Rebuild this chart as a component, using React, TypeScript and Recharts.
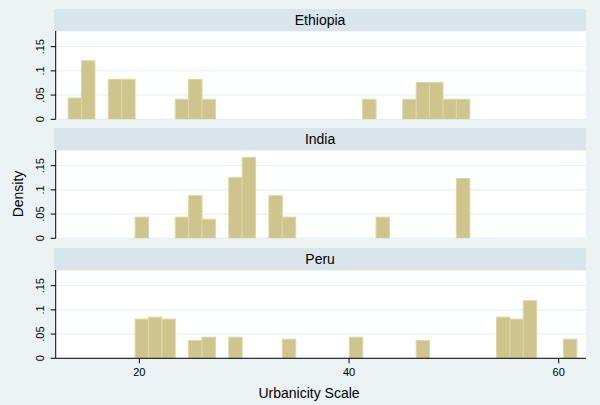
import { BarChart, Bar, XAxis, YAxis, CartesianGrid } from 'recharts'

// histogram bins (bin centres on the urbanicity scale)
const BINS = [
  13.86, 15.14, 16.42, 17.69, 18.97, 20.25, 21.52, 22.8, 24.08, 25.35,
  26.63, 27.91, 29.18, 30.46, 31.74, 33.01, 34.29, 35.57, 36.85, 38.12,
  39.4, 40.68, 41.95, 43.23, 44.5, 45.78, 47.06, 48.34, 49.61, 50.89,
  52.17, 53.44, 54.72, 56.0, 57.27, 58.55, 59.83, 61.1,
]

const ETHIOPIA = [
  0.044, 0.121, 0, 0.0826, 0.0826, 0, 0, 0, 0.0413, 0.0826,
  0.0413, 0, 0, 0, 0, 0, 0, 0, 0, 0,
  0, 0, 0.0413, 0, 0, 0.0413, 0.0764, 0.0764, 0.0413, 0.0413,
  0, 0, 0, 0, 0, 0, 0, 0,
]
const INDIA = [
  0, 0, 0, 0, 0, 0.0437, 0, 0, 0.0437, 0.0881,
  0.0395, 0, 0.126, 0.167, 0, 0.088, 0.0437, 0, 0, 0,
  0, 0, 0, 0.0437, 0, 0, 0, 0, 0, 0.1236,
  0, 0, 0, 0, 0, 0, 0, 0,
]
const PERU = [
  0, 0, 0, 0, 0, 0.081, 0.085, 0.081, 0, 0.0367,
  0.0436, 0, 0.0436, 0, 0, 0, 0.0395, 0, 0, 0,
  0, 0.0436, 0, 0, 0, 0, 0.0367, 0, 0, 0,
  0, 0, 0.085, 0.081, 0.119, 0, 0, 0.0395,
]

const COUNTRIES = ['Ethiopia', 'India', 'Peru']
const Y_TICKS = [0, 0.05, 0.1, 0.15]
const Y_LABELS = ['0', '.05', '.1', '.15']
const X_TICKS = [20, 40, 60]
const X_DOMAIN = [12.02, 62.6]

const C = { bg: '#eaf2f3', strip: '#d9e5eb', grid: '#e4edf0', bar: '#cec58c', barEdge: '#ddd6a8', ink: '#000' }
const FONT = '"Liberation Sans", Arial, Helvetica, sans-serif'

const PLOT_L = 55.7
const PLOT_R = 586
const PLOT_W = PLOT_R - PLOT_L
const PLOT_H = 88.3
const STRIP_H = 22
const STRIP_TOPS = [9, 128.3, 247.6]
// one bin in pixels, from the same linear scale as the x axis
const BIN_PX = (BINS[1] - BINS[0]) * PLOT_W / (X_DOMAIN[1] - X_DOMAIN[0])

function YTick({ x, y, payload }: any) {
  const i = Y_TICKS.indexOf(payload.value)
  return (
    <text transform={`translate(${x - 4.3},${y}) rotate(-90)`} textAnchor="middle" fontSize={11} fontFamily={FONT} fill={C.ink}>
      {Y_LABELS[i] ?? payload.value}
    </text>
  )
}

// histogram bar: full bin width, centred on the bin value
function BinBar({ x, y, width, height }: any) {
  if (!height || height <= 0) return null
  const cx = x + width / 2
  return <rect x={cx - BIN_PX / 2} y={y} width={BIN_PX} height={height} fill={C.bar} stroke={C.barEdge} strokeWidth={1} />
}

function Panel({ name, values, top, showX }: { name: string; values: number[]; top: number; showX: boolean }) {
  const rows = BINS.map((b, i) => ({ bin: b, density: values[i] }))
  const plotTop = top + STRIP_H
  const below = showX ? 30 : 10
  return (
    <>
      <div style={{ position: 'absolute', left: PLOT_L - 1.5, top, width: PLOT_W + 1.5, height: STRIP_H, background: C.strip, fontSize: 14, lineHeight: `${STRIP_H}px`, textAlign: 'center', color: C.ink }}>
        {name}
      </div>
      <div style={{ position: 'absolute', left: PLOT_L, top: plotTop, width: PLOT_W, height: PLOT_H, background: '#fff' }} />
      <div style={{ position: 'absolute', left: 0, top: plotTop }}>
        <BarChart width={600} height={PLOT_H + below} data={rows} barCategoryGap={0} barGap={0}
          margin={{ top: 0, right: 600 - PLOT_R, bottom: showX ? 0 : below, left: PLOT_L - 50 }}>
          <CartesianGrid vertical={false} stroke={C.grid} />
          <XAxis dataKey="bin" type="number" domain={X_DOMAIN} allowDataOverflow ticks={X_TICKS} height={30} hide={!showX}
            stroke={C.ink} tickSize={5} tickMargin={5} tick={{ fontSize: 11, fill: C.ink, fontFamily: FONT }} />
          <YAxis width={50} domain={[0, 0.1824]} allowDataOverflow ticks={Y_TICKS} interval={0}
            stroke={C.ink} tickSize={5} tick={<YTick />} />
          <Bar dataKey="density" shape={<BinBar />} isAnimationActive={false} />
        </BarChart>
      </div>
    </>
  )
}

export default function App() {
  const series = [ETHIOPIA, INDIA, PERU]
  return (
    <div style={{ position: 'fixed', left: 0, top: 0, width: 600, height: 405, background: C.bg, fontFamily: FONT, overflow: 'hidden' }}>
      {COUNTRIES.map((name, i) => (
        <Panel key={name} name={name} values={series[i]} top={STRIP_TOPS[i]} showX={i === COUNTRIES.length - 1} />
      ))}
      <div style={{ position: 'absolute', left: 17.5, top: 194, transform: 'translate(-50%,-50%) rotate(-90deg)', fontSize: 14, whiteSpace: 'nowrap', color: C.ink }}>
        Density
      </div>
      <div style={{ position: 'absolute', left: 309, top: 393, transform: 'translate(-50%,-50%)', fontSize: 14, whiteSpace: 'nowrap', color: C.ink }}>
        Urbanicity Scale
      </div>
    </div>
  )
}
